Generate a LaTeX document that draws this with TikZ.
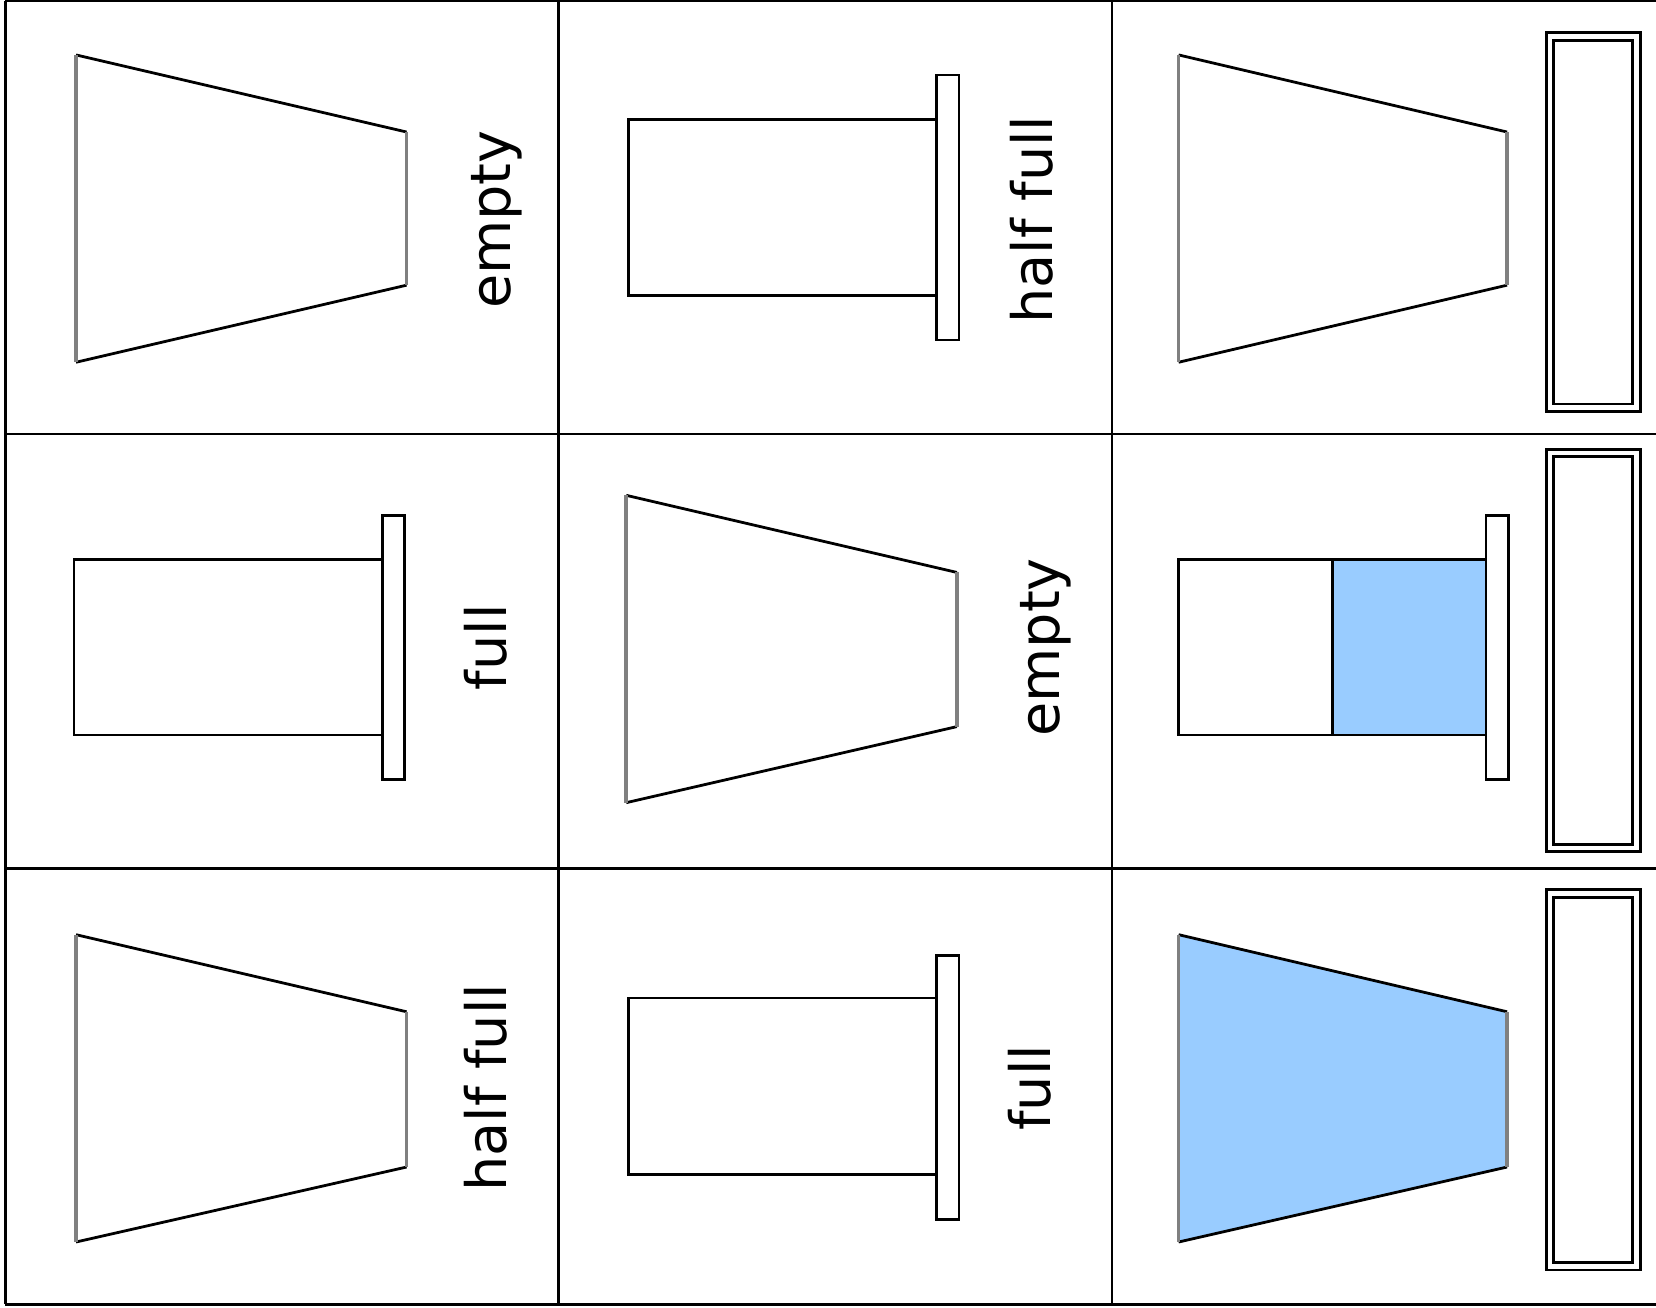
\documentclass[tikz,border=0pt]{standalone}
\usepackage{fontspec}
\setsansfont{DejaVu Sans}
\usepackage{tikz}

\begin{document}
\begin{tikzpicture}[scale=0.2]
  \tikzstyle{every node}+=[inner sep=0pt]
  \tikzstyle{lbl}=[rotate=90, font=\sffamily\fontsize{15}{18}\selectfont]
  \tikzstyle{ln}=[line width=0.75pt]
  \tikzstyle{side}=[line width=1pt, gray]
  \tikzstyle{tray}=[line width=0.75pt, double, double distance=1.25pt]
  \definecolor{water}{RGB}{153,204,255}
  \useasboundingbox (0,0) rectangle (78.4,-61.92);
  % grid
  \draw [ln] (0.25,-0.05) -- (78.4,-0.05);
  \draw [ln] (0.25,-20.55) -- (78.4,-20.55);
  \draw [ln] (0.25,-41.1) -- (78.4,-41.1);
  \draw [ln] (0.25,-61.75) -- (78.4,-61.75);
  \draw [ln] (0.25,-0.05) -- (0.25,-61.75);
  \draw [ln] (26.45,-0.05) -- (26.45,-61.75);
  \draw [ln] (52.65,-0.05) -- (52.65,-61.75);
  % row 1
  \draw [ln] (3.6,-2.6) -- (19.25,-6.25);
  \draw [ln] (3.6,-17.15) -- (19.25,-13.5);
  \draw [side] (3.6,-2.6) -- (3.6,-17.15);
  \draw [side] (19.25,-6.25) -- (19.25,-13.5);
  \draw (23.5,-10.4) node [lbl] (e1) {empty};
  \draw [ln] (29.75,-5.65) rectangle (44.35,-14);
  \draw [ln] (44.35,-3.55) rectangle (45.4,-16.1);
  \draw (48.85,-10.4) node [lbl] (h1) {half full};
  \draw [ln] (55.8,-2.6) -- (71.35,-6.25);
  \draw [ln] (55.8,-17.15) -- (71.35,-13.5);
  \draw [side] (55.8,-2.6) -- (55.8,-17.15);
  \draw [side] (71.35,-6.25) -- (71.35,-13.5);
  \draw [tray] (73.375,-1.725) rectangle (77.475,-19.3);
  % row 2
  \draw [ln] (3.5,-26.5) rectangle (18.1,-34.8);
  \draw [ln] (18.1,-24.4) rectangle (19.15,-36.9);
  \draw (23,-30.65) node [lbl] (f1) {full};
  \draw [ln] (29.65,-23.45) -- (45.3,-27.1);
  \draw [ln] (29.65,-38) -- (45.3,-34.4);
  \draw [side] (29.65,-23.45) -- (29.65,-38);
  \draw [side] (45.3,-27.1) -- (45.3,-34.4);
  \draw (49.5,-30.65) node [lbl] (e2) {empty};
  \draw [ln] (55.8,-26.5) rectangle (63.1,-34.8);
  \draw [ln, fill=water] (63.1,-26.5) rectangle (70.35,-34.8);
  \draw [ln] (70.35,-24.4) rectangle (71.4,-36.9);
  \draw [tray] (73.375,-21.45) rectangle (77.475,-40.15);
  % row 3
  \draw [ln] (3.6,-44.25) -- (19.25,-47.9);
  \draw [ln] (3.6,-58.8) -- (19.25,-55.25);
  \draw [side] (3.6,-44.25) -- (3.6,-58.8);
  \draw [side] (19.25,-47.9) -- (19.25,-55.25);
  \draw (23,-51.5) node [lbl] (h2) {half full};
  \draw [ln] (29.75,-47.25) rectangle (44.35,-55.6);
  \draw [ln] (44.35,-45.25) rectangle (45.4,-57.75);
  \draw (48.75,-51.5) node [lbl] (f2) {full};
  \fill [water] (55.8,-44.25) -- (71.35,-47.9) -- (71.35,-55.25) -- (55.8,-58.8) -- cycle;
  \draw [ln] (55.8,-44.25) -- (71.35,-47.9);
  \draw [ln] (55.8,-58.8) -- (71.35,-55.25);
  \draw [side] (55.8,-44.25) -- (55.8,-58.8);
  \draw [side] (71.35,-47.9) -- (71.35,-55.25);
  \draw [tray] (73.375,-42.3) rectangle (77.475,-59.95);
\end{tikzpicture}
\end{document}
